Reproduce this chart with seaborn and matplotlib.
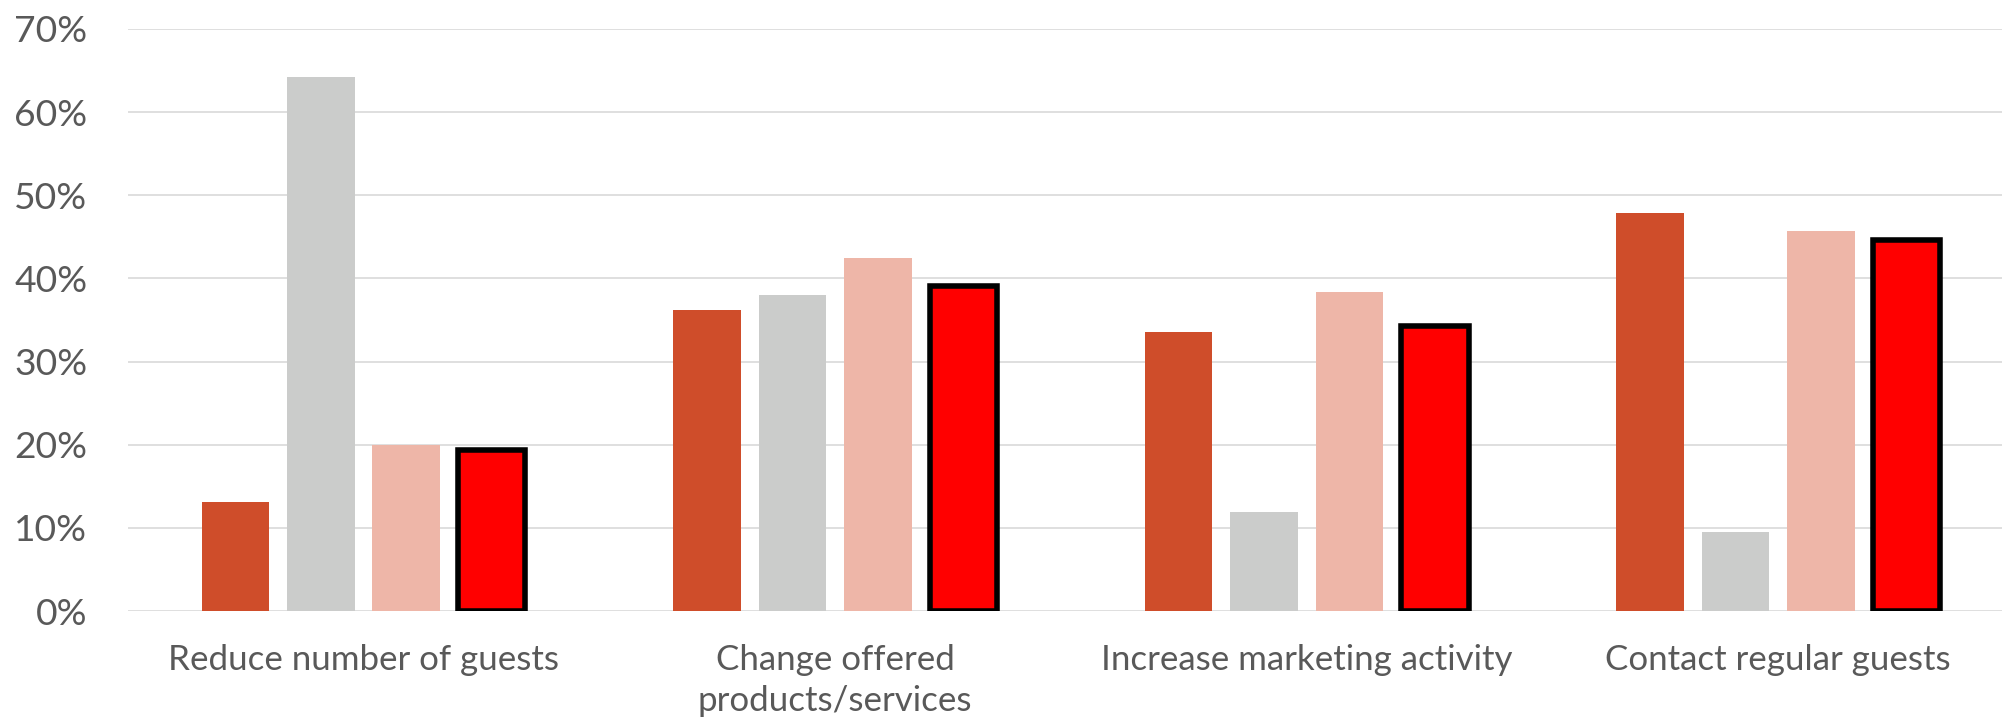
import matplotlib
matplotlib.use("Agg")
import matplotlib.pyplot as plt
from matplotlib.ticker import PercentFormatter
import seaborn as sns
import pandas as pd

# Survey responses: share of businesses taking each measure
categories = [
    "Reduce number of guests",
    "Change offered\nproducts/services",
    "Increase marketing activity",
    "Contact regular guests",
]
series_names = ["S1", "S2", "S3", "S4"]
s1_values = [0.131, 0.362, 0.335, 0.479]
s2_values = [0.642, 0.380, 0.119, 0.095]
s3_values = [0.200, 0.425, 0.384, 0.457]
s4_values = [0.194, 0.391, 0.343, 0.446]
colors = ["#CF4D2A", "#CBCCCB", "#EEB6A8", "#FF0000"]
yticks = [0.0, 0.1, 0.2, 0.3, 0.4, 0.5, 0.6, 0.7]

rows = []
for name, vals in zip(series_names, [s1_values, s2_values, s3_values, s4_values]):
    for cat, v in zip(categories, vals):
        rows.append({"category": cat, "series": name, "value": v})
df = pd.DataFrame(rows)

sns.set_theme(style="white")
plt.rcParams["font.family"] = ["Lato", "DejaVu Sans"]

fig = plt.figure(figsize=(20.02, 7.23), dpi=100)
ax = fig.add_axes([0.0638, 0.1549, 0.9422, 0.805])

sns.barplot(
    data=df, x="category", y="value", hue="series",
    order=categories, hue_order=series_names, palette=colors,
    width=0.725, gap=0.21, legend=False, ax=ax,
    saturation=1.0, linewidth=0,
)

# Highlighted series gets a heavy black outline
for patch in ax.containers[3]:
    patch.set_edgecolor("black")
    patch.set_linewidth(4.0)
    patch.set_joinstyle("miter")

ax.set_xlim(-0.5, 3.5)
ax.set_ylim(0, 0.7)
ax.set_yticks(yticks)
ax.yaxis.set_major_formatter(PercentFormatter(1.0, decimals=0))
ax.grid(axis="y", color="#D9D9D9", linewidth=1.2)
ax.set_axisbelow(True)
for s in ax.spines.values():
    s.set_visible(False)
ax.tick_params(axis="y", length=0, pad=29, labelsize=26.8, labelcolor="#595959")
ax.tick_params(axis="x", length=0, pad=24, labelsize=25.1, labelcolor="#595959")
for lbl in ax.get_xticklabels():
    lbl.set_linespacing(1.33)
ax.set_xlabel("")
ax.set_ylabel("")

fig.savefig("out.png", dpi=100)
